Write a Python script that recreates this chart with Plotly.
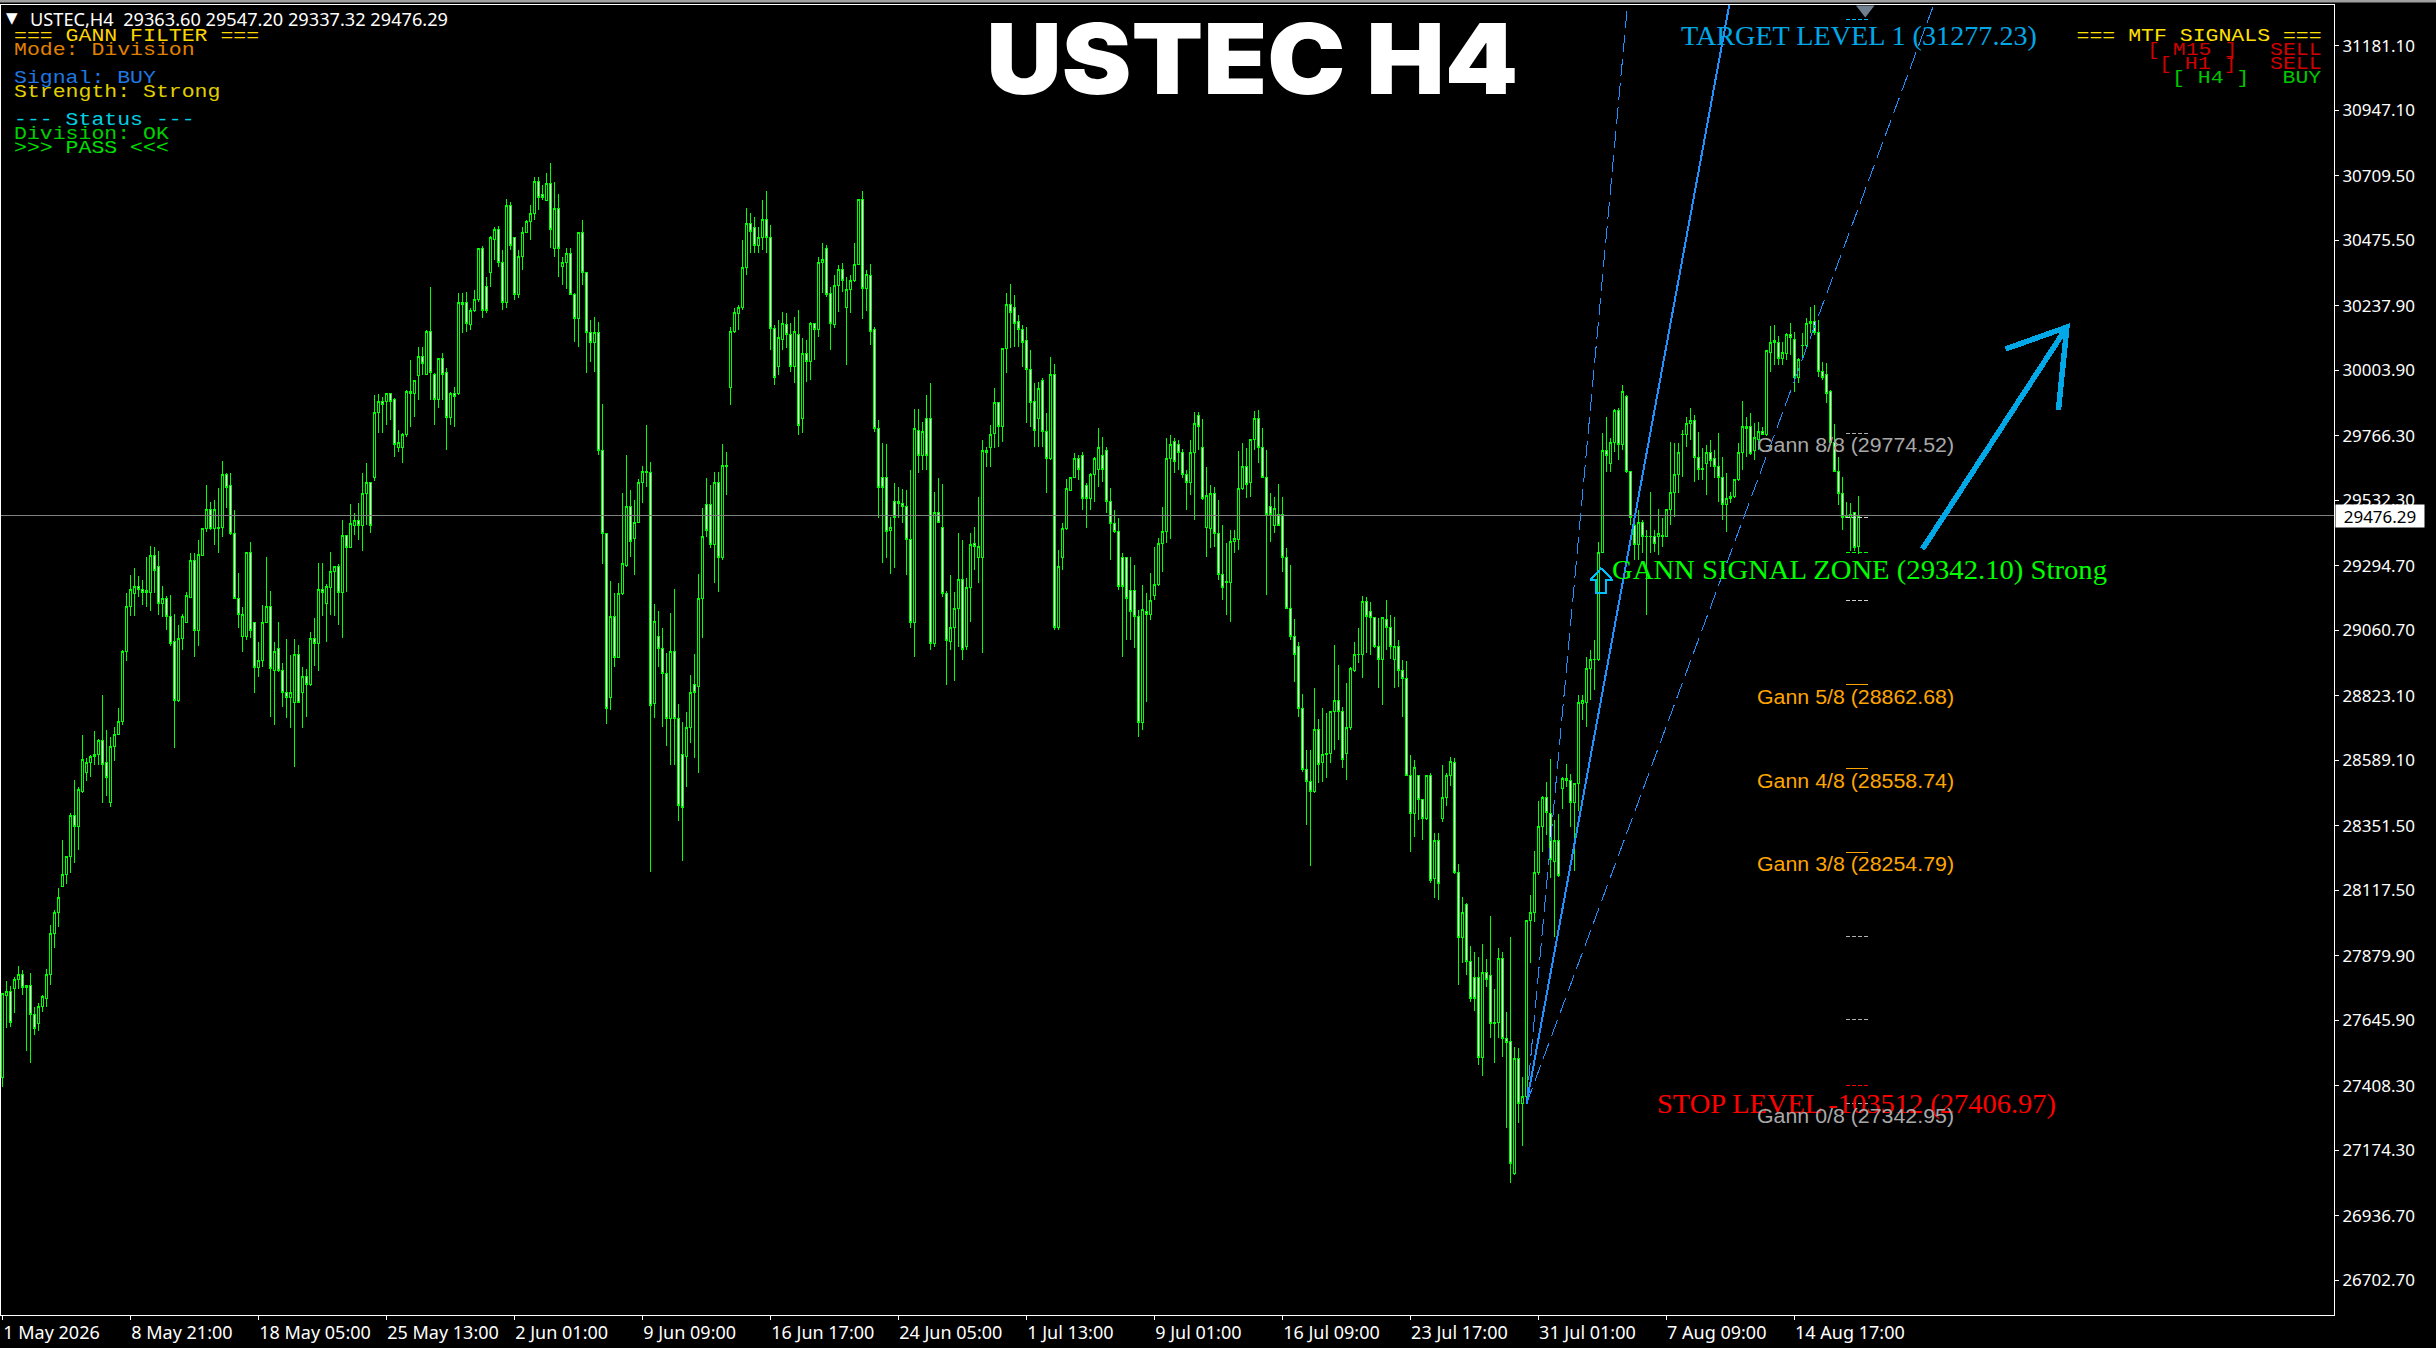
import json
import plotly.graph_objects as go

# ---------- candle data (prices) ----------
highs = [
27741,27788,27770,27802,27842,27828,27773,27817,27694,27708,
27737,27831,27991,28046,28125,28299,28241,28397,28517,28492,
28680,28597,28608,28695,28666,28826,28699,28673,28709,28778,
28989,29196,29261,29286,29257,29243,29326,29366,29362,29348,
29221,29185,29188,29119,29079,29119,29199,29341,29341,29388,
29428,29587,29526,29533,29577,29675,29631,29631,29497,29268,
29145,29344,29381,29087,29018,29152,29326,29203,29018,29090,
28942,29029,28971,29029,29007,28927,28920,29054,29105,29304,
29304,29228,29344,29290,29301,29460,29406,29518,29486,29522,
29631,29667,29598,29914,29918,29907,29918,29918,29903,29787,
29776,29932,30041,29968,30088,30088,30150,30306,29994,30048,
30066,30012,29925,29943,30284,30284,30288,30230,30295,30447,
30455,30342,30491,30523,30527,30440,30625,30614,30487,30440,
30523,30549,30603,30705,30705,30676,30719,30756,30687,30643,
30415,30447,30447,30284,30505,30549,30360,30186,30197,30179,
29881,29413,29239,29196,29232,29558,29696,29569,29533,29609,
29656,29805,29671,29156,29130,29069,28978,29123,29210,28793,
28728,28764,28898,28974,29265,29504,29613,29587,29635,29635,
29736,29707,30161,30230,30240,30476,30592,30574,30560,30523,
30621,30654,30531,30168,30186,30215,30211,30175,30197,30222,
30121,30113,30179,30175,30415,30465,30458,30306,30349,30386,
30393,30342,30349,30465,30625,30654,30367,30389,30161,29823,
29740,29736,29471,29595,29580,29573,29569,29642,29863,29863,
29816,29914,29957,29562,29613,29591,29203,29261,29199,29413,
29388,29250,29413,29435,29544,29751,29725,29805,29939,29889,
30084,30284,30317,30277,30204,30168,30161,30077,29957,29961,
29976,29849,30052,30026,29352,29450,29609,29616,29704,29696,
29707,29595,29631,29689,29794,29762,29725,29577,29497,29468,
29341,29326,29326,29297,29134,29225,29196,29268,29362,29395,
29508,29758,29769,29758,29751,29718,29642,29751,29852,29852,
29827,29653,29587,29580,29533,29442,29377,29424,29424,29711,
29740,29722,29754,29856,29859,29794,29714,29558,29544,29591,
29544,29359,29297,29101,29018,28829,28626,28626,28851,28739,
28778,28760,28764,29007,28934,28782,28869,28927,29018,29069,
29185,29181,29163,29105,29105,29105,29170,29116,29109,29025,
28953,28949,28608,28590,28535,28445,28535,28543,28325,28325,
28572,28543,28601,28597,28212,28093,28071,27915,27893,27875,
27922,27868,28024,27759,27908,27893,27675,27948,27549,27545,
27440,28009,28100,28260,28441,28459,28510,28593,28372,28394,
28528,28575,28539,28506,28826,28826,28963,28989,29025,29381,
29776,29834,29758,29863,29867,29950,29914,29635,29471,29497,
29460,29424,29562,29424,29500,29468,29500,29743,29740,29740,
29787,29834,29867,29841,29780,29722,29733,29751,29714,29776,
29689,29631,29562,29606,29740,29892,29834,29849,29812,29816,
29798,30077,30164,30168,30128,30106,30139,30175,30142,30048,
30139,30193,30233,30240,30186,30034,30030,29932,29809,29689,
29616,29526,29522,29486,29547.20]

body_tops = [
27741,27748,27748,27795,27810,27810,27770,27770,27668,27694,
27730,27813,27962,28038,28089,28173,28238,28387,28387,28481,
28590,28579,28601,28611,28662,28662,28579,28640,28684,28731,
28985,29145,29210,29221,29221,29210,29203,29330,29330,29290,
29174,29174,29109,29018,29029,29109,29188,29312,29312,29337,
29428,29500,29500,29497,29435,29624,29624,29584,29413,29177,
29119,29344,29344,29087,28949,29090,29145,29145,28982,28996,
28916,28836,28836,28974,28974,28891,28891,29032,29032,29210,
29210,29221,29275,29290,29290,29406,29406,29446,29460,29457,
29558,29595,29595,29849,29889,29889,29918,29918,29896,29740,
29769,29925,29928,29968,30052,30052,30143,30143,29990,30045,
30048,29997,29921,29921,30248,30251,30251,30222,30259,30444,
30444,30309,30487,30513,30516,30396,30603,30603,30484,30415,
30505,30542,30571,30687,30687,30640,30683,30683,30592,30592,
30393,30429,30429,30280,30505,30505,30360,30139,30139,30139,
29714,29413,29109,29109,29192,29304,29511,29511,29453,29595,
29635,29635,29631,29094,29036,28996,28905,28982,28985,28742,
28608,28709,28836,28862,29177,29402,29518,29518,29595,29595,
29660,29660,30143,30215,30230,30378,30538,30538,30520,30484,
30549,30549,30487,30157,30121,30172,30168,30132,30143,30132,
30063,30066,30172,30172,30393,30407,30444,30284,30313,30371,
30371,30295,30328,30389,30625,30625,30353,30349,30150,29794,
29616,29616,29435,29529,29529,29522,29508,29388,29794,29787,
29783,29827,29827,29489,29489,29435,29192,29069,29141,29243,
29243,29217,29373,29377,29366,29711,29711,29772,29885,29885,
30084,30244,30244,30233,30179,30153,30110,30005,29889,29939,
29968,29780,29990,29990,29290,29431,29573,29616,29685,29685,
29693,29587,29624,29682,29722,29693,29714,29526,29446,29417,
29323,29323,29203,29203,29112,29134,29127,29167,29225,29377,
29417,29685,29733,29747,29733,29704,29627,29704,29812,29841,
29725,29548,29555,29555,29413,29261,29239,29381,29395,29573,
29653,29653,29754,29827,29827,29722,29616,29508,29504,29482,
29479,29326,29141,29036,29000,28775,28557,28510,28699,28699,
28608,28615,28764,28807,28807,28767,28706,28920,28974,28974,
29163,29163,29130,29105,29000,29105,29098,29072,29003,29000,
28916,28884,28535,28564,28532,28445,28532,28532,28296,28296,
28452,28535,28586,28582,28183,28038,28064,27860,27799,27799,
27817,27817,27806,27639,27868,27868,27581,27567,27505,27505,
27367,28009,28035,28180,28347,28455,28455,28397,28296,28296,
28524,28524,28517,28503,28797,28807,28923,28953,28956,29344,
29714,29714,29743,29859,29859,29925,29910,29635,29439,29453,
29453,29402,29402,29402,29410,29406,29500,29562,29624,29707,
29772,29812,29820,29823,29689,29649,29704,29704,29682,29656,
29616,29537,29544,29606,29707,29798,29798,29798,29758,29780,
29780,30074,30103,30113,30106,30070,30132,30132,30117,30041,
30095,30175,30179,30179,30139,30001,29990,29925,29740,29638,
29558,29475,29482,29486,29476.29]

body_bottoms = [
27436,27737,27639,27759,27795,27766,27766,27668,27617,27632,
27694,27726,27813,27962,28038,28129,28173,28238,28347,28347,
28477,28543,28579,28601,28611,28575,28528,28437,28640,28684,
28728,28985,29145,29192,29210,29199,29196,29196,29279,29159,
29159,29109,29014,28807,28807,29032,29090,29181,29058,29058,
29333,29431,29428,29428,29428,29435,29577,29413,29177,29116,
29036,29036,29061,28927,28927,28949,29090,28920,28916,28916,
28836,28815,28815,28800,28800,28836,28862,28862,29011,29014,
29196,29159,29217,29275,29196,29196,29362,29362,29442,29442,
29442,29555,29442,29613,29849,29878,29889,29889,29736,29725,
29725,29769,29921,29921,29983,30030,29990,29994,29899,29899,
29990,29834,29834,29907,29921,30244,30172,30168,30222,30259,
30222,30222,30357,30480,30393,30248,30248,30458,30277,30277,
30415,30505,30542,30571,30632,30629,30621,30513,30447,30447,
30382,30393,30280,30193,30193,30357,30139,30106,30106,29714,
29413,28775,28818,28963,28963,29192,29297,29384,29395,29453,
29595,29631,28789,28793,28996,28905,28739,28739,28742,28423,
28419,28604,28709,28836,28858,29177,29421,29370,29370,29323,
29323,29656,29943,30143,30211,30230,30378,30509,30458,30458,
30484,30484,30157,29979,30016,30117,30132,30016,30016,29805,
29830,30034,30034,30150,30150,30393,30280,30172,30168,30313,
30328,30233,30295,30328,30389,30302,30302,30146,29794,29577,
29577,29417,29421,29468,29522,29508,29388,29090,29090,29693,
29693,29696,29011,29011,29453,29192,29025,29021,29069,29141,
28989,29003,29217,29366,29323,29323,29704,29725,29776,29798,
29798,30084,30215,30175,30150,30106,30005,29885,29787,29830,
29780,29685,29685,29069,29069,29323,29428,29569,29616,29645,
29540,29537,29537,29624,29642,29642,29526,29446,29417,29221,
29221,29174,29127,29112,28724,28724,29119,29119,29188,29225,
29377,29417,29685,29671,29704,29624,29595,29595,29704,29798,
29540,29435,29431,29413,29261,29214,29232,29235,29381,29391,
29573,29591,29598,29751,29722,29616,29482,29482,29442,29442,
29326,29141,29036,28974,28775,28557,28510,28477,28477,28575,
28582,28608,28615,28764,28764,28590,28615,28706,28916,28971,
28974,29109,29105,29000,28956,28956,29072,29000,28956,28916,
28884,28535,28394,28394,28445,28379,28379,28154,28158,28140,
28376,28452,28532,28183,27944,27944,27860,27723,27726,27509,
27509,27795,27632,27632,27639,27581,27563,27124,27091,27342,
27342,27367,28009,28035,28183,28347,28401,28227,28220,28169,
28488,28517,28437,28437,28503,28793,28797,28923,28953,28953,
29344,29696,29667,29743,29736,29736,29635,29471,29373,29370,
29402,29399,29399,29377,29399,29402,29402,29500,29562,29624,
29769,29769,29812,29689,29645,29645,29667,29678,29653,29616,
29518,29518,29540,29544,29606,29707,29794,29700,29714,29754,
29772,29769,30070,30103,30045,30045,30066,30124,29976,29976,
30092,30092,30175,30139,30001,29976,29921,29740,29638,29558,
29471,29471,29471,29362,29363.60]

lows = [
27403,27617,27621,27672,27759,27737,27534,27490,27592,27607,
27675,27694,27773,27908,27984,28129,28140,28180,28216,28263,
28470,28514,28528,28572,28572,28434,28459,28419,28586,28680,
28717,28949,29112,29112,29181,29152,29145,29130,29196,29116,
29109,29061,29003,28633,28800,28989,29090,29177,28963,29003,
29330,29417,29424,29370,29341,29399,29504,29406,29177,29069,
28982,29025,29032,28833,28891,28927,29087,28746,28717,28909,
28782,28742,28706,28564,28796,28706,28746,28858,28931,28913,
29112,29018,29116,29112,29079,29032,29199,29359,29406,29388,
29348,29442,29413,29602,29776,29776,29805,29823,29689,29707,
29667,29762,29798,29834,29896,29987,29987,29896,29805,29867,
29896,29714,29805,29798,29914,30139,30143,30150,30215,30251,
30193,30211,30306,30404,30378,30222,30230,30440,30259,30266,
30367,30502,30476,30549,30585,30621,30621,30447,30415,30342,
30313,30299,30277,30106,30088,30313,29994,30034,29997,29696,
29301,28720,28771,28927,28960,29188,29290,29326,29261,29453,
29522,29580,28183,28742,28927,28709,28640,28572,28572,28368,
28223,28492,28651,28597,28543,29032,29399,29359,29232,29199,
29315,29551,29878,30139,30150,30222,30349,30429,30429,30429,
30440,30429,30077,29950,29987,30077,30084,29997,29957,29769,
29776,29961,29968,30041,30124,30284,30269,30077,30157,30215,
30288,30023,30211,30324,30386,30190,30219,30095,29780,29468,
29304,29323,29265,29286,29468,29450,29261,29069,28963,29631,
29642,29642,28989,29000,29453,29181,28862,28989,28876,29000,
28953,28989,29090,29279,29232,28978,29653,29653,29722,29725,
29743,29994,30084,30088,30088,30016,29812,29798,29725,29725,
29725,29558,29678,29061,29061,29279,29424,29566,29613,29606,
29497,29431,29497,29526,29580,29598,29486,29315,29413,29207,
28963,29025,29025,28996,28673,28699,28800,29098,29170,29221,
29272,29377,29391,29631,29642,29613,29497,29551,29460,29714,
29533,29326,29359,29362,29243,29170,29116,29090,29341,29352,
29569,29540,29544,29714,29667,29613,29188,29381,29413,29439,
29272,29138,29025,28873,28746,28546,28354,28205,28470,28506,
28510,28524,28579,28626,28662,28561,28517,28699,28909,28942,
28887,28978,28971,28996,28851,28789,28989,28956,28851,28855,
28746,28532,28256,28310,28372,28299,28372,28143,28089,28082,
28365,28423,28495,28176,27773,27853,27810,27712,27679,27483,
27443,27766,27581,27490,27581,27512,27255,27055,27084,27273,
27189,27345,27853,28002,28173,28256,28318,28162,27948,28165,
28412,28492,28347,28187,28405,28735,28709,28807,28844,28949,
29341,29635,29635,29707,29678,29714,29631,29442,29315,29315,
29341,29116,29341,29344,29333,29362,29399,29442,29471,29558,
29616,29725,29751,29598,29606,29606,29551,29653,29613,29526,
29460,29417,29522,29540,29602,29642,29689,29696,29678,29714,
29769,29765,29997,30023,30023,30023,30041,30059,29925,29957,
30045,30088,30139,30132,29979,29968,29885,29733,29635,29515,
29424,29468,29348,29348,29337.32]

# B = bull (black body), W = bear (white body)
directions = (
"BBWBBWWWWB" "BBBBBBBBWB" "BBBBBWWBBB" "BBBBWWBBWW" "BWWWBBBBWB"
"BBWBBBWWWW" "BBWWBBBWBW" "WWBBWBWBWB" "WBBBWBWBBW" "BBWBBWBWWB"
"BBBBBWBWWB" "WWBWBBWBBB" "WWBBWWBWWB" "BBBBWWBWBW" "BBWWBWWWBW"
"WWBWBBBWBB" "BWWBWWWBWW" "WBBWBBWWBW" "BWBBBBBWWB" "BWWWBBWWBW"
"BWBWBBWWBB" "WBBBBWBWWW" "WWBWWWWWBW" "BWWBWWWBBB" "WBBWBBBBBW"
"BBWWWWWWWB" "WWBWBBBBBW" "WWBBBWWWWW" "WWWWWBWBBB" "BBBWWWWBBW"
"WBBWWWBBBB" "BWBBWWWWBW" "WWWWWWWWBW" "BBBBWWBBBB" "BWWWWBWWBW"
"WWWBWWBWBW" "BBBWWBWWWW" "BWWBBWWWBW" "BBBBBBWWBW" "BWWBBBBBBB"
"BWBBWBWWWB" "WWWWBBBBBB" "BBBWWWBWWW" "WBWBBBWWBB" "WBBBWBBWWB"
"WBBWWWWWWW" "WWBWB")

lens = {len(highs), len(body_tops), len(body_bottoms), len(lows), len(directions)}
if len(lens) != 1:
    raise SystemExit(f"length mismatch {len(highs)} {len(body_tops)} {len(body_bottoms)} {len(lows)} {len(directions)}")

opens = [b if d == "B" else t for t, b, d in zip(body_tops, body_bottoms, directions)]
closes = [t if d == "B" else b for t, b, d in zip(body_tops, body_bottoms, directions)]
bars = list(range(len(highs)))

# ---------- axes ----------
price_ticks = [31181.10, 30947.10, 30709.50, 30475.50, 30237.90, 30003.90, 29766.30,
               29532.30, 29294.70, 29060.70, 28823.10, 28589.10, 28351.50, 28117.50,
               27879.90, 27645.90, 27408.30, 27174.30, 26936.70, 26702.70]
time_labels = ["1 May 2026", "8 May 21:00", "18 May 05:00", "25 May 13:00", "2 Jun 01:00",
               "9 Jun 09:00", "16 Jun 17:00", "24 Jun 05:00", "1 Jul 13:00", "9 Jul 01:00",
               "16 Jul 09:00", "23 Jul 17:00", "31 Jul 01:00", "7 Aug 09:00", "14 Aug 17:00"]
time_tick_bars = [i * 32 for i in range(len(time_labels))]
bid_price = 29476.29

# ---------- Gann objects (bar index / price) ----------
fan_origin = (381.1, 27343.0)
fan_top_price = 31329.0
fan_solid_end_bar = 431.8
fan_steep_end_bar = 406.35
fan_flat_end_bar = 482.9

level_names = ["target", "8/8", "7/8", "zone", "6/8", "5/8", "4/8", "3/8", "2/8", "1/8", "stop", "0/8"]
level_prices = [31277.23, 29774.52, 29470.58, 29342.10, 29166.63, 28862.68, 28558.74,
                28254.79, 27950.84, 27646.90, 27406.97, 27342.95]
level_colors = ["#00BFFF", "#B0B0B0", "#D0D0D0", "#00FF00", "#D0D0D0", "#FFA500", "#FFA500",
                "#FFA500", "#B0B0B0", "#B0B0B0", "#FF0000", "#B0B0B0"]
level_bars = (461.0, 466.6)

arrow_bars = [480.1, 516.2, 500.9, 516.2, 514.1]
arrow_prices = [29355, 30160, 30081, 30160, 29859]
up_arrow_bars = [399.8, 402.6, 401.1, 401.1, 398.6, 398.6, 397.1, 399.8]
up_arrow_prices = [29286, 29243, 29243, 29196, 29196, 29243, 29243, 29286]

PLOT_L, PLOT_R, PLOT_T, PLOT_B = 1, 2334, 5, 1315
W, H = 2436, 1348

fig = go.Figure()
fig.add_trace(go.Candlestick(
    x=bars, open=opens, high=highs, low=lows, close=closes,
    increasing=dict(line=dict(color="#00FF00", width=1), fillcolor="#000000"),
    decreasing=dict(line=dict(color="#00FF00", width=1), fillcolor="#FFFFFF"),
    whiskerwidth=0, showlegend=False, hoverinfo="skip"))

# bid line
fig.add_trace(go.Scatter(x=[-1, 600], y=[bid_price, bid_price], mode="lines",
                         line=dict(color="#808080", width=1), showlegend=False, hoverinfo="skip"))
# fan
fig.add_trace(go.Scatter(x=[fan_origin[0], fan_steep_end_bar], y=[fan_origin[1], fan_top_price], mode="lines",
                         line=dict(color="#1E90FF", width=1, dash="17px,7px"), showlegend=False, hoverinfo="skip"))
fig.add_trace(go.Scatter(x=[fan_origin[0], fan_flat_end_bar], y=[fan_origin[1], fan_top_price], mode="lines",
                         line=dict(color="#1E90FF", width=1, dash="17px,7px"), showlegend=False, hoverinfo="skip"))
fig.add_trace(go.Scatter(x=[fan_origin[0], fan_solid_end_bar], y=[fan_origin[1], fan_top_price], mode="lines",
                         line=dict(color="#1E90FF", width=2), showlegend=False, hoverinfo="skip"))
# levels
for name, price, col in zip(level_names, level_prices, level_colors):
    solid = col == "#FFA500"
    fig.add_trace(go.Scatter(x=list(level_bars), y=[price, price], mode="lines", name=name,
                             line=dict(color=col, width=1, dash="solid" if solid else "4px,2px"),
                             showlegend=False, hoverinfo="skip"))
# big arrow
fig.add_trace(go.Scatter(x=arrow_bars, y=arrow_prices, mode="lines",
                         line=dict(color="#00A8E8", width=5.5), showlegend=False, hoverinfo="skip"))
# signal arrow
fig.add_trace(go.Scatter(x=up_arrow_bars, y=up_arrow_prices, mode="lines",
                         line=dict(color="#00BFFF", width=2), showlegend=False, hoverinfo="skip"))
# period separator marker at the top
fig.add_trace(go.Scatter(x=[465.8], y=[31313], mode="markers",
                         marker=dict(symbol="triangle-down", size=16, color="#708090"),
                         showlegend=False, hoverinfo="skip"))


def px(x):
    return (x - PLOT_L) / (PLOT_R - PLOT_L)


def py(y):
    return 1 - (y - PLOT_T) / (PLOT_B - PLOT_T)


text_widths = {}


def label(text, x, y, color, size, family, xanchor="left", width=None, **kw):
    fig.add_annotation(text=text, x=px(x), y=py(y), xref="paper", yref="paper", showarrow=False,
                       xanchor=xanchor, yanchor="middle", align=xanchor,
                       font=dict(family=family, size=size, color=color, **kw), borderpad=0)
    if width:
        text_widths[text] = width


MONO = "Liberation Mono"
SERIF = "Liberation Serif"
SANS = "Liberation Sans"
UI = "Noto Sans"
MONO_SIZE = 19
CH = 12.9

label("▼", 5, 18, "#FFFFFF", 15, "DejaVu Sans")
label("USTEC,H4\u00a0\u00a029363.60 29547.20 29337.32 29476.29", 29, 18.5, "#FFFFFF", 18, UI, width=418)
label("USTEC H4", 1252, 58.5, "#FFFFFF", 98, "Inter", xanchor="center", width=532, weight=900)

filter_lines = [("=== GANN FILTER ===", 36, "#FFD700"), ("Mode: Division", 50, "#E08000"),
                ("Signal: BUY", 78, "#1E78E0"), ("Strength: Strong", 92, "#E0D000"),
                ("--- Status ---", 120, "#00D0E0"), ("Division: OK", 134, "#00D000"),
                (">>> PASS <<<", 148, "#00E000")]
for t, y, c in filter_lines:
    label(t, 13, y, c, MONO_SIZE, MONO, width=len(t) * CH)

label("=== MTF SIGNALS ===", 2323, 36, "#FFE000", MONO_SIZE, MONO, xanchor="right", width=19 * CH)
label("[ M15 ]", 2146, 50, "#D00000", MONO_SIZE, MONO, width=7 * CH)
label("SELL", 2323, 50, "#D00000", MONO_SIZE, MONO, xanchor="right", width=4 * CH)
label("[ H1 ]", 2158, 64, "#D00000", MONO_SIZE, MONO, width=6 * CH)
label("SELL", 2323, 64, "#D00000", MONO_SIZE, MONO, xanchor="right", width=4 * CH)
label("[ H4 ]", 2171, 78, "#00C800", MONO_SIZE, MONO, width=6 * CH)
label("BUY", 2323, 78, "#00C800", MONO_SIZE, MONO, xanchor="right", width=3 * CH)

label("TARGET LEVEL 1 (31277.23)", 1680, 35, "#00A8E8", 28, SERIF, width=356)
label("GANN SIGNAL ZONE (29342.10) Strong", 1611, 569, "#00FF00", 28, SERIF, width=495)
label("Gann 8/8 (29774.52)", 1756, 444, "#A8A8A8", 20.5, SANS, width=197)
label("Gann 5/8 (28862.68)", 1756, 697, "#FFA500", 20.5, SANS, width=197)
label("Gann 4/8 (28558.74)", 1756, 780, "#FFA500", 20.5, SANS, width=197)
label("Gann 3/8 (28254.79)", 1756, 864, "#FFA500", 20.5, SANS, width=197)
label("STOP LEVEL -103512 (27406.97)", 1656, 1103, "#FF0000", 28, SERIF, width=399)
label("Gann 0/8 (27342.95)", 1756, 1115, "#A8A8A8", 20.5, SANS, width=197)

fig.add_annotation(text="29476.29", x=px(2380), y=py(515.5), xref="paper", yref="paper", showarrow=False,
                   xanchor="center", yanchor="middle", width=88, height=22, bgcolor="#FFFFFF",
                   font=dict(family=UI, size=17, color="#000000"), borderpad=0)

fig.add_shape(type="rect", xref="paper", yref="paper", x0=px(0), x1=px(W), y0=py(0), y1=py(2.6),
              fillcolor="#A0A0A0", line=dict(width=0))

fig.update_layout(
    width=W, height=H, autosize=False,
    margin=dict(l=PLOT_L, r=W - PLOT_R, t=PLOT_T, b=H - PLOT_B, pad=0),
    paper_bgcolor="#000000", plot_bgcolor="#000000",
    showlegend=False, hovermode=False, dragmode=False,
    xaxis=dict(range=[-0.325, 583.0], rangeslider=dict(visible=False), showgrid=False, zeroline=False,
               showline=True, linecolor="#FFFFFF", linewidth=1, mirror=True,
               tickmode="array", tickvals=time_tick_bars, ticktext=time_labels,
               ticks="outside", ticklen=4, tickcolor="#FFFFFF", tickwidth=1,
               ticklabelposition="outside right", ticklabelstandoff=1,
               tickfont=dict(family=UI, size=18, color="#FFFFFF")),
    yaxis=dict(range=[26576.0, 31329.0], side="right", showgrid=False, zeroline=False,
               showline=True, linecolor="#FFFFFF", linewidth=1, mirror=True,
               tickmode="array", tickvals=price_ticks, ticktext=[f"{v:.2f}" for v in price_ticks],
               ticks="outside", ticklen=4, tickcolor="#FFFFFF", tickwidth=1,
               tickfont=dict(family=UI, size=17, color="#FFFFFF")),
)

post = """
document.body.style.margin='0';document.body.style.background='#000';
var widths = %s;
document.querySelectorAll('text.annotation-text').forEach(function(el){
  var w = widths[el.textContent];
  if (w) { el.setAttribute('textLength', w); el.setAttribute('lengthAdjust', 'spacingAndGlyphs'); }
});
document.querySelectorAll('.boxes path, .scatterlayer .js-line').forEach(function(el){
  el.style.shapeRendering = 'crispEdges';
});
""" % json.dumps(text_widths)

fig.write_html("out.html", config={"displayModeBar": False}, post_script=post)
